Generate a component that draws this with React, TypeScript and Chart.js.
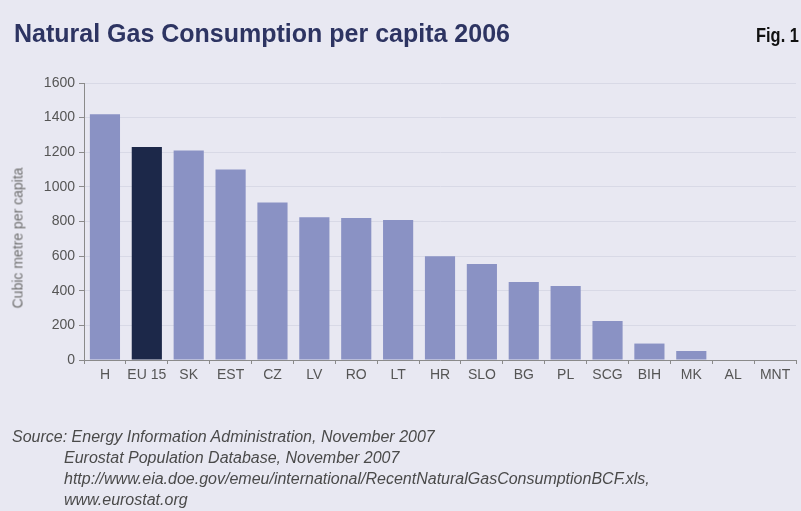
import React, { useEffect, useRef } from "react";
import { Chart, registerables } from "chart.js";

Chart.register(...registerables);

const categories = ["H", "EU 15", "SK", "EST", "CZ", "LV", "RO", "LT", "HR", "SLO", "BG", "PL", "SCG", "BIH", "MK", "AL", "MNT"];
const values = [1420, 1230, 1210, 1100, 910, 825, 820, 808, 600, 555, 450, 428, 225, 95, 52, 3, 0];
const highlight = ["EU 15"];
const yTicks = [0, 200, 400, 600, 800, 1000, 1200, 1400, 1600];

const title = "Natural Gas Consumption per capita 2006";
const figLabel = "Fig. 1";
const yTitle = "Cubic metre per capita";
const sourceLines = [
  "Source: Energy Information Administration, November 2007",
  "Eurostat Population Database, November 2007",
  "http://www.eia.doe.gov/emeu/international/RecentNaturalGasConsumptionBCF.xls,",
  "www.eurostat.org",
];

const BG = "#e8e8f2";
const BAR = "#8a92c4";
const BAR_HI = "#1c2849";
const FONT = "Liberation Sans, Arial, sans-serif";

export default function App() {
  const ref = useRef<HTMLCanvasElement | null>(null);

  useEffect(() => {
    document.body.style.margin = "0";
    const canvas = ref.current;
    if (!canvas) return;
    const chart = new Chart(canvas, {
      type: "bar",
      data: {
        labels: categories,
        datasets: [
          {
            data: values,
            backgroundColor: categories.map((c) => (highlight.includes(c) ? BAR_HI : BAR)),
            borderWidth: 0,
            barPercentage: 0.72,
            categoryPercentage: 1.0,
          },
        ],
      },
      options: {
        animation: false,
        responsive: false,
        maintainAspectRatio: false,
        layout: { padding: { top: 83, right: 5, bottom: 111, left: 0 } },
        plugins: { legend: { display: false }, tooltip: { enabled: false }, title: { display: false } },
        scales: {
          x: {
            offset: true,
            grid: { color: "rgba(0,0,0,0)", tickColor: "#8a8a8a", tickLength: 4, offset: true, drawOnChartArea: false },
            border: { color: "#8a8a8a", width: 1 },
            ticks: { color: "#555", font: { family: FONT, size: 14 }, padding: 3, maxRotation: 0, autoSkip: false },
            afterFit: (s: any) => { s.height = 40; },
          },
          y: {
            min: 0,
            max: 1600,
            afterBuildTicks: (s: any) => { s.ticks = yTicks.map((v) => ({ value: v })); },
            grid: { color: "#d8d9e6", tickColor: "#8a8a8a", tickLength: 5 },
            border: { color: "#8a8a8a", width: 1 },
            ticks: {
              color: "#555",
              font: { family: FONT, size: 14 },
              padding: 4,
              callback: (v: any) => String(v),
            },
            afterFit: (s: any) => { s.width = 84; },
          },
        },
      },
    });
    return () => chart.destroy();
  }, []);

  return (
    <div style={{ position: "relative", width: 801, height: 511, background: BG, overflow: "hidden" }}>
      <canvas ref={ref} width={801} height={511} style={{ position: "absolute", left: 0, top: 0, width: 801, height: 511 }} />
      <div
        style={{
          position: "absolute", left: 18, top: 238, width: 0, height: 0,
        }}
      >
        <div
          style={{
            position: "absolute", left: 0, top: 0, transform: "translate(-50%, -50%) rotate(-90deg)",
            fontFamily: FONT, fontSize: 14, fontWeight: "normal", color: "#707070", whiteSpace: "nowrap", lineHeight: "17px",
          }}
        >
          {yTitle}
        </div>
      </div>
      <div
        style={{
          position: "absolute", left: 14, top: 19, fontFamily: FONT,
          fontWeight: "bold", fontSize: 25, color: "#2d3462", whiteSpace: "nowrap", lineHeight: "28px",
        }}
      >
        {title}
      </div>
      <div
        style={{
          position: "absolute", right: 2, top: 23, fontFamily: FONT,
          fontWeight: "bold", fontSize: 21, color: "#111", whiteSpace: "nowrap", lineHeight: "24px",
          transform: "scaleX(0.78)", transformOrigin: "right center",
        }}
      >
        {figLabel}
      </div>
      <div
        style={{
          position: "absolute", left: 12, top: 426, fontFamily: FONT,
          fontStyle: "italic", fontSize: 16, color: "#4a4a4a", whiteSpace: "nowrap", lineHeight: "21px",
        }}
      >
        {sourceLines.map((l, i) => (
          <div key={i} style={{ paddingLeft: i === 0 ? 0 : 52 }}>{l}</div>
        ))}
      </div>
    </div>
  );
}
